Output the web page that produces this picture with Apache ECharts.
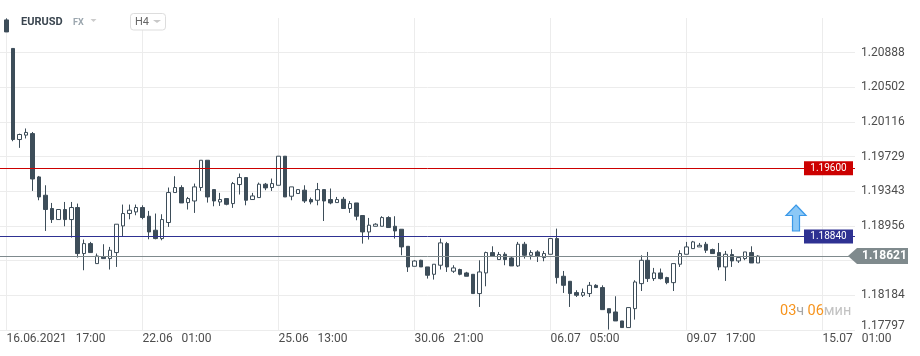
<!DOCTYPE html>
<html><head><meta charset="utf-8">
<script src="https://cdn.jsdelivr.net/npm/echarts@6/dist/echarts.min.js"></script>
<style>html,body{margin:0;padding:0;background:#fff}#c{width:920px;height:356px}</style>
</head><body><div id="c"></div>
<script>
const symbolName = 'EURUSD';
const opens = [1.21253,1.20935,1.19920,1.19969,1.19986,1.19503,1.19299,1.19151,1.19028,1.19140,1.19028,1.19162,1.18649,1.18760,1.18537,1.18611,1.18593,1.18660,1.18957,1.19095,1.19113,1.19162,1.19065,1.18909,1.18816,1.18995,1.19329,1.19385,1.19217,1.19235,1.19385,1.19689,1.19362,1.19224,1.19262,1.19206,1.19418,1.19496,1.19251,1.19273,1.19422,1.19385,1.19410,1.19734,1.19288,1.19318,1.19355,1.19251,1.19243,1.19362,1.19251,1.19217,1.19254,1.19151,1.19213,1.19073,1.18890,1.18953,1.18953,1.19050,1.18953,1.18920,1.18730,1.18507,1.18574,1.18500,1.18418,1.18519,1.18760,1.18452,1.18471,1.18433,1.18418,1.18203,1.18433,1.18660,1.18582,1.18641,1.18600,1.18511,1.18753,1.18630,1.18667,1.18604,1.18641,1.18816,1.18396,1.18340,1.18214,1.18184,1.18203,1.18295,1.18270,1.18035,1.17998,1.17898,1.17824,1.18035,1.18314,1.18574,1.18370,1.18433,1.18381,1.18325,1.18530,1.18641,1.18704,1.18723,1.18753,1.18693,1.18660,1.18500,1.18638,1.18567,1.18593,1.18660,1.18544];
const closes = [1.21119,1.19920,1.19976,1.19999,1.19480,1.19280,1.19140,1.19028,1.19140,1.19028,1.19162,1.18649,1.18760,1.18660,1.18622,1.18593,1.18686,1.18976,1.19095,1.19132,1.19162,1.19051,1.18890,1.18816,1.19028,1.19329,1.19385,1.19213,1.19262,1.19392,1.19689,1.19280,1.19235,1.19251,1.19198,1.19429,1.19496,1.19243,1.19291,1.19422,1.19381,1.19429,1.19734,1.19280,1.19392,1.19362,1.19235,1.19224,1.19362,1.19235,1.19213,1.19251,1.19151,1.19206,1.19065,1.18890,1.18965,1.18976,1.19050,1.18939,1.18901,1.18723,1.18500,1.18566,1.18500,1.18407,1.18530,1.18768,1.18500,1.18489,1.18418,1.18396,1.18203,1.18444,1.18660,1.18619,1.18638,1.18582,1.18511,1.18753,1.18630,1.18660,1.18619,1.18649,1.18816,1.18381,1.18295,1.18203,1.18184,1.18214,1.18295,1.18270,1.18024,1.17987,1.17898,1.17824,1.18047,1.18332,1.18574,1.18370,1.18433,1.18370,1.18325,1.18537,1.18649,1.18723,1.18779,1.18741,1.18686,1.18649,1.18500,1.18641,1.18567,1.18604,1.18667,1.18544,1.18621];
const lows = [1.21119,1.19901,1.19827,1.19932,1.19347,1.19243,1.18901,1.18990,1.19028,1.18953,1.18827,1.18604,1.18463,1.18660,1.18537,1.18593,1.18471,1.18500,1.18834,1.19031,1.19076,1.19031,1.18808,1.18808,1.18797,1.18946,1.19329,1.19213,1.19140,1.19102,1.19347,1.19217,1.19176,1.19180,1.19187,1.19158,1.19307,1.19187,1.19251,1.19273,1.19355,1.19347,1.19410,1.19280,1.19243,1.19318,1.19213,1.19198,1.19187,1.19012,1.19198,1.19217,1.19151,1.19102,1.19020,1.18760,1.18805,1.18953,1.18953,1.18939,1.18816,1.18630,1.18444,1.18507,1.18500,1.18370,1.18359,1.18471,1.18444,1.18433,1.18407,1.18396,1.18203,1.18054,1.18284,1.18619,1.18582,1.18519,1.18511,1.18500,1.18593,1.18582,1.18555,1.18563,1.18641,1.18314,1.18210,1.18054,1.18165,1.18165,1.18165,1.18270,1.18024,1.17802,1.17898,1.17824,1.17824,1.17913,1.18232,1.18332,1.18344,1.18360,1.18307,1.18232,1.18500,1.18641,1.18704,1.18723,1.18656,1.18649,1.18463,1.18344,1.18500,1.18544,1.18575,1.18544,1.18544];
const highs = [1.21270,1.20935,1.19985,1.20043,1.20004,1.19514,1.19410,1.19213,1.19140,1.19224,1.19224,1.19206,1.18805,1.18779,1.18649,1.18753,1.18723,1.18976,1.19195,1.19195,1.19195,1.19187,1.19124,1.19095,1.19087,1.19385,1.19511,1.19410,1.19280,1.19429,1.19689,1.19689,1.19362,1.19325,1.19262,1.19447,1.19541,1.19496,1.19325,1.19440,1.19436,1.19485,1.19734,1.19734,1.19392,1.19362,1.19410,1.19273,1.19436,1.19362,1.19374,1.19280,1.19280,1.19235,1.19213,1.19073,1.19046,1.18987,1.19065,1.19065,1.19065,1.18920,1.18730,1.18574,1.18580,1.18500,1.18530,1.18816,1.18779,1.18519,1.18480,1.18445,1.18418,1.18574,1.18670,1.18730,1.18667,1.18664,1.18619,1.18779,1.18779,1.18686,1.18686,1.18678,1.18816,1.18927,1.18455,1.18340,1.18240,1.18259,1.18332,1.18307,1.18295,1.18035,1.18173,1.17898,1.18047,1.18351,1.18630,1.18667,1.18489,1.18482,1.18390,1.18537,1.18686,1.18779,1.18790,1.18767,1.18779,1.18704,1.18767,1.18678,1.18697,1.18604,1.18667,1.18730,1.18630];
const xTickLabels = ['16.06.2021   17:00','22.06   01:00','25.06   13:00','30.06   21:00','06.07   05:00','09.07   17:00','15.07   01:00'];
const yTickLabels = ['1.17797','1.18184','','1.18956','1.19343','1.19729','1.20116','1.20502','1.20888',''];
const yMin = 1.17797;
const yStep = 0.0038637;
const resistanceLevel = 1.19600;
const supportLevel = 1.18840;
const lastPrice = 1.18621;
const candlesPerTick = 21;
const slotCount = 133;

const DARK = '#3d4d59';
const FONT = 'Roboto';
const cats = [];
for (let k = 0; k < slotCount; k++) cats.push(String(k));
const candles = opens.map((o, i) => [i + 1, o, closes[i], lows[i], highs[i]]);
const tickFn = (idx) => idx >= 1 && (idx - 1) % candlesPerTick === 0;

const chart = echarts.init(document.getElementById('c'), null, {renderer: 'canvas'});
chart.setOption({
  animation: false,
  backgroundColor: '#fff',
  grid: {left: 0, right: 65, top: 18, bottom: 26, containLabel: false},
  xAxis: {
    type: 'category', data: cats, boundaryGap: false,
    axisLine: {show: false}, axisTick: {show: false},
    axisLabel: {interval: tickFn, formatter: (v, idx) => xTickLabels[(idx - 1) / candlesPerTick] || '',
      align: 'left', margin: 3, color: '#4d4d4d', fontSize: 12, fontFamily: FONT},
    splitLine: {show: true, interval: tickFn, lineStyle: {color: '#ececec', width: 1}}
  },
  yAxis: {
    type: 'value', position: 'right', min: yMin, max: yMin + 9 * yStep, interval: yStep,
    axisLine: {show: false}, axisTick: {show: false},
    axisLabel: {margin: 6, color: '#4d4d4d', fontSize: 12, fontFamily: FONT, showMaxLabel: false,
      formatter: function (v) {
        const i = Math.round((v - yMin) / yStep);
        const s = yTickLabels[i];
        if (!s) return '';
        return i === 0 ? '{b|' + s + '}' : s;
      },
      rich: {b: {fontSize: 12, color: '#4d4d4d', fontFamily: FONT, padding: [0, 0, 8, 0]}}
    },
    splitLine: {show: true, showMaxLine: false, lineStyle: {color: '#ececec', width: 1}}
  },
  series: [{
    type: 'candlestick', name: symbolName, data: candles, encode: {x: 0, y: [1, 2, 3, 4]},
    barWidth: 4, clip: false,
    itemStyle: {color: '#ffffff', color0: DARK, borderColor: DARK, borderColor0: DARK, borderWidth: 1},
    markLine: {
      silent: true, symbol: ['none', 'none'], label: {show: false}, animation: false, precision: 5,
      data: [
        {yAxis: resistanceLevel, lineStyle: {color: '#cc0000', width: 1, type: 'solid'}},
        {yAxis: supportLevel, lineStyle: {color: '#2e3192', width: 1, type: 'solid'}},
        {yAxis: lastPrice, lineStyle: {color: '#7f8a8d', width: 1, type: 'solid'}}
      ]
    }
  }]
});

const py = (v) => chart.convertToPixel({yAxisIndex: 0}, v);
const yR = py(resistanceLevel), yS = py(supportLevel), yL = py(lastPrice);
const fmt = (v) => v.toFixed(5);
chart.setOption({
  graphic: [
    {type: 'rect', shape: {x: 804, y: yR - 7, width: 49, height: 14}, style: {fill: '#cc0000'}, z: 10},
    {type: 'text', x: 828.5, y: yR, style: {text: fmt(resistanceLevel), fill: '#fff', font: '10px Roboto', align: 'center', verticalAlign: 'middle'}, z: 11},
    {type: 'rect', shape: {x: 804, y: yS - 7, width: 49, height: 14}, style: {fill: '#2e3192'}, z: 10},
    {type: 'text', x: 828.5, y: yS, style: {text: fmt(supportLevel), fill: '#fff', font: '10px Roboto', align: 'center', verticalAlign: 'middle'}, z: 11},
    {type: 'polygon', shape: {points: [[848, yL], [857, yL - 8], [908, yL - 8], [908, yL + 8], [857, yL + 8]]}, style: {fill: '#7f8a8d'}, z: 10},
    {type: 'text', x: 862, y: yL, style: {text: fmt(lastPrice), fill: '#fff', font: 'bold 12px Roboto', align: 'left', verticalAlign: 'middle'}, z: 11},
    {type: 'polygon', shape: {points: [[796, 205], [806, 215.5], [799.5, 215.5], [799.5, 231], [792.5, 231], [792.5, 215.5], [786, 215.5]]},
      style: {fill: '#8cc8f6', stroke: '#3a98e8', lineWidth: 1.2}, z: 10},
    {type: 'text', x: 780, y: 311, style: {text: '{a|03}{b|ч} {a|06}{c|мин}', verticalAlign: 'middle', align: 'left',
      rich: {a: {fill: '#f7941d', font: '14.5px Roboto'}, b: {fill: '#a6a6a6', font: '14.5px Roboto'}, c: {fill: '#c2c2c2', font: '14.5px Roboto'}}}, z: 10},
    {type: 'text', x: 21, y: 22.5, style: {text: symbolName, fill: '#3b4650', font: 'bold 11px Roboto', verticalAlign: 'middle'}, z: 10},
    {type: 'text', x: 73, y: 22.5, style: {text: 'FX', fill: '#9ba6ae', font: 'bold 9px Roboto', verticalAlign: 'middle'}, z: 10},
    {type: 'polygon', shape: {points: [[90.5, 19], [96.5, 19], [93.5, 22]]}, style: {fill: '#cccccc'}, z: 10},
    {type: 'rect', shape: {x: 130.5, y: 13.5, width: 35, height: 16.5, r: 3}, style: {fill: '#fff', stroke: '#dddddd', lineWidth: 1}, z: 10},
    {type: 'text', x: 135, y: 22.5, style: {text: 'H4', fill: '#666', font: '11px Roboto', verticalAlign: 'middle'}, z: 11},
    {type: 'polygon', shape: {points: [[153, 20], [161, 20], [157, 23]]}, style: {fill: '#c8c8c8'}, z: 11}
  ]
});
</script></body></html>
